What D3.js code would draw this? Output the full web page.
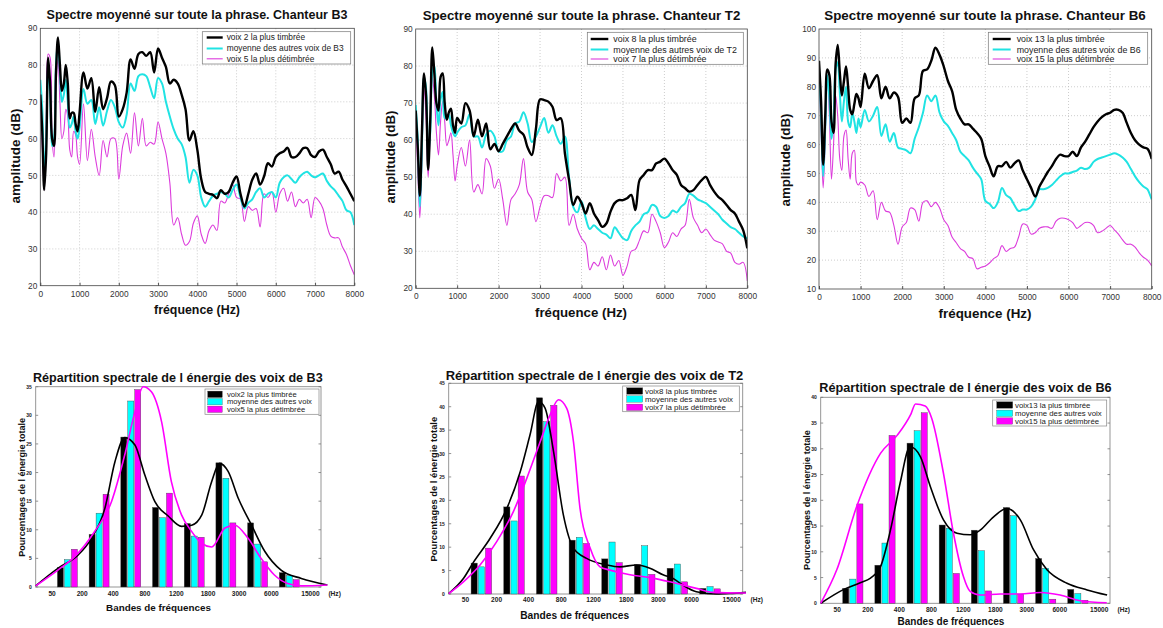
<!DOCTYPE html>
<html><head><meta charset="utf-8">
<script src="https://cdn.jsdelivr.net/npm/d3@7"></script>
<style>body{margin:0;background:#fff}svg{display:block}text{font-family:"Liberation Sans",Arial,sans-serif}</style>
</head><body><svg id="c" width="1163" height="628"></svg>
<script>
// ---------- DATA: spectra (top row) ----------
const freqs = [0,50,100,150,200,250,300,350,400,450,500,550,600,650,700,750,800,850,900,950,1000,
1100,1200,1300,1400,1500,1600,1700,1800,1900,2000,2100,2200,2300,2400,2500,2600,2700,2800,2900,3000,
3100,3200,3300,3400,3500,3600,3700,3800,3900,4000,4100,4200,4300,4400,4500,4600,4700,4800,4900,5000,
5100,5200,5300,5400,5500,5600,5700,5800,5900,6000,6100,6200,6300,6400,6500,6600,6700,6800,6900,7000,
7100,7200,7300,7400,7500,7600,7700,7800,7900,8000];
const freqTicks = [0,1000,2000,3000,4000,5000,6000,7000,8000];

const b3Timbree = [72,62,46,56,82,75,60,58,78,87.5,80,73,75,80,75,65.5,67,67,64,62,67,
78,73.6,76.4,67.3,74,68,71,75.5,74.5,66, 68,72.5,81.5,79,83,83.5,82.5,83.5,78,84.5,
82,79.5,75,76,75,72,68,59.5,62,57, 49,45.5,45,44.7,43.8,46,45,45.5,48,49.7,
45,41.5,45,48.8,50.5,47.5,49.7,53.3,52.4,55, 56,56.5,57.5,55,55,56,57.4,57.4,55.5,55,
56.5,57,55,53,50.5,51,48.8,47,45,43];
const b3Moyenne = [76,68,50,60,80,72,58,60,80,86.5,78,70,72,76,70,63,64,66,62,60,63,
73.5,69.5,70.5,64,68.5,63.5,67.5,70.5,68.5,64.5, 63,66.5,75,73,77,77.5,77,74,71,76.5,
75,70,66,62.5,60,58.5,55,48,51.5,50, 44,41.5,43,44.5,45,45.5,45,44,46,47.5,
44,41,42.5,43.5,45.5,46.5,44,45,45.5,44, 48,49.5,50,49,48,49.5,50.5,51,50,49.5,
50,50.5,48.5,47,46,44.5,43,40.5,40,36.5];
const b3Detimbree = [72,58,46,62,83,82,60,55,74,81.5,70,60,62,68,66,57,55,62,61,55,53,
69.5,54,62.5,55,50,59.5,55,60,60,49, 58,61.5,56,67,58,65.5,58,59,58.5,64.5,
60,56,48,36.5,38.5,34,31,32,37,39, 34,31.5,35,36.5,35,43,42.5,45,47.5,44,
43.5,37.5,41.5,40.5,41,36,45,44,45.5,40, 45,46.5,43,45.5,41.5,43.5,42.5,43.5,38.5,44,
43,41,36.5,33.5,33,33,30.5,28.5,25.5,23];

const t2Timbree = [68,58,45,62,78,72,52,65,85,78,70,68,77,78,70,65.5,67.5,68.5,64,62,66,
64.5,70,68,61,65.5,61,64.5,57.5,59,57, 59,61,63,64.5,62.5,61.5,58,56,63,71,
70.8,70.4,69,65.4,65.9,56.4,49.2,42.5,44.7,43, 40.2,43,40.2,38.4,36.6,37.5,40.7,43,43.8,43.8,
44.3,45.2,41.1,49.2,50.6,51.9,51.9,53.7,54.2,55, 53.7,51.9,50.6,47.9,47,46.1,46.5,47.9,49.2,50.1,
47.9,46.1,44.7,43.8,42.5,41.1,40.2,38,35.7,30.8];
const t2Moyenne = [69.5,60,42,58,77,74,56,62,78,80,70,64,71,73,66,66,67,64,62,61,62,
63.5,64,67,61,61,58,61.5,62.5,61,57, 57,60,61,64.5,65,67.5,64.5,59.5,61,63.5,
66,62,64,61,59,61,50,42,40.5,43.5, 39,36,37,36,35,34.5,33.5,36.5,35,33.5,
33,35.5,37,38,40,40.5,42.5,42,39.5,39, 39.5,41,40.5,42,43,45.5,45,44,43.5,43,
42,41,40,38.5,37.5,36.5,36,35,34,33.5];
const t2Detimbree = [66,52,39,55,74,66,50,62,77,72,62,56,65,70.5,65,58.5,60,62,56,49,53,
58,53,60,46,48,45.5,55,53,47,49.5, 44,37,44,45.5,48,55,46,44,38,42,
45,45,44.5,51,49,50,37,40,36,33.5, 32,25,27,26,28.5,25,29,26,27.5,23.5,
26,30,30.5,33,35.5,35,40,38,35,31, 32.5,35,34,36,37,44,39,37,35,36,
34.5,33,32.5,32,30,29.5,27,26.5,27,22];

const b6Timbree = [89,75,53,70,86,84,68,64,88,94.5,85,77,82,87,80,72,70.5,74,77.5,76,73,
84.5,79.5,82,84,76,80,76,78,76.5,67.5, 69,67.5,76,77,85.5,86,89,93.5,91,87,
82,78.5,72,69,67,67,65.5,64,62,56, 52.5,49,52.5,52.5,54,52,53.5,54.5,51,48,
45,42,45.5,48,50.5,52.5,55,56.5,56,56, 57.5,56,59,61,63.5,66,68,69.5,70.5,71,
72,72,71,67.5,64,61.5,60,59,58.5,55];
const b6Moyenne = [86,70,49,66,84,76,62,68,86,88.5,78,68,75,80,68,66,71,68,64,69,66,
72,68,70,73,63,67,61,64,59,58.5, 58,57,62,66,71,77,75,77,71,68,
66.5,64,61.5,57.5,56,54.5,52,50,48,40.5, 39.5,38,40,45,42.5,41.5,39,37,37.5,37.5,
38.5,41,44.5,44.5,45,46,47.5,49,50,50, 50.5,51,52,51.5,52,54,55,55.5,56,56.5,
57,56.5,55.5,54,51.5,49,47,45.5,44.5,41];
const b6Detimbree = [85,65,45,62,84,70,48,60,77,70,55,51,63,65,55,48,57,58,47,46,47,
46,42,44,34,40,37,36.5,32,25.5,31.5, 33,38,37.5,33.5,40,40.5,38.5,40,38,34,
32,28,26,24,23,21,20.5,17,17.5,18, 19,20.5,21.5,25,23,24,24.5,28,32.5,32,
29,29.5,31,31.5,31.5,31,33.5,34.5,34.5,34, 33,31,32,33,33,32,29.5,30,31,32,
30.5,29,27,25.5,25.5,24.5,22.5,21,20,18];

// ---------- DATA: energy per band (bottom row) ----------
const bandLabels = ["50","200","400","800","1200","1800","3000","6000","15000"];
const bandLabelPos = [0.5,1.45,2.43,3.43,4.42,5.42,6.4,7.42,8.65];
const bandIndex = [1,2,3,4,5,6,7,8];

const b3BarTimbree = [3.4,9.2,26.2,13.9,11.1,21.7,11.2,2.5];
const b3BarMoyenne = [4.8,12.9,32.5,12.1,8.9,19.0,7.5,2.0];
const b3BarDetimbree = [6.6,16.2,34.5,16.4,8.7,11.2,4.4,1.3];
const t2BarTimbree = [6.6,18.6,41.9,11.5,7.5,6.3,5.5,1.2];
const t2BarMoyenne = [5.8,15.6,36.8,12.1,11.1,10.3,6.4,1.6];
const t2BarDetimbree = [9.8,25.2,40.3,10.8,6.7,4.2,2.6,1.1];
const b6BarTimbree = [2.9,7.4,31.1,15.2,14.2,18.6,8.7,2.7];
const b6BarMoyenne = [4.7,11.7,33.5,14.6,10.2,17.0,6.8,1.9];
const b6BarDetimbree = [19.3,32.6,37.0,5.8,2.4,1.8,0.8,0.6];

const b3CurveTimbree = [[0,0.2],[0.71,3.3],[1.34,5.6],[1.76,8.5],[2.18,13.7],[2.5,21.9],[2.81,26.1],[3.13,24.8],[3.44,19.6],[3.76,14.9],[4.18,12.4],[4.6,10.6],[4.92,10.8],[5.24,12.6],[5.55,18.4],[5.8,21.6],[6.07,20.2],[6.39,15.5],[6.81,10.8],[7.23,6.2],[7.75,2.9],[8.38,1.5],[9.2,0.35]];
const b3CurveDetimbree = [[0,0.2],[0.71,3.0],[1.23,5.3],[1.86,9.7],[2.39,14.9],[2.81,23.1],[3.13,30.6],[3.39,35],[3.65,34.1],[3.97,28.9],[4.28,18.4],[4.6,12.6],[4.92,9.7],[5.24,7.6],[5.55,7.0],[5.97,10.3],[6.28,10.8],[6.7,8.5],[7.11,5.0],[7.53,2.1],[7.95,0.6],[8.38,0.2],[9.2,0.35]];
const t2CurveTimbree = [[0,0.1],[0.45,3.3],[0.76,6.8],[1.27,11.9],[1.78,18.3],[2.19,26.1],[2.49,34],[2.75,41.1],[2.95,39.7],[3.21,30.4],[3.51,16.9],[3.82,9.8],[4.22,7.6],[4.84,6.2],[5.24,5.8],[5.75,6.2],[6.16,5.5],[6.56,4.1],[6.87,3.3],[7.17,1.9],[7.58,0.5],[8.19,0],[8.6,0.1],[9.1,0.35]];
const t2CurveDetimbree = [[0,0.1],[0.45,2.6],[0.96,6.2],[1.47,11.2],[1.98,17.6],[2.39,24.7],[2.8,32.5],[3.1,38.2],[3.36,41.5],[3.61,39.7],[3.82,32.5],[4.02,18.3],[4.33,9.8],[4.63,5.8],[4.94,5.1],[5.55,4.1],[6.16,3.5],[6.77,2.6],[7.17,1.9],[7.58,1.2],[8.09,0.35],[9.1,0.2]];
const b6CurveTimbree = [[0,0],[0.72,2.7],[1.23,4.0],[1.55,4.9],[1.86,7.1],[2.17,14.2],[2.47,23.3],[2.78,30.4],[3.1,28.5],[3.41,22.7],[3.82,16.2],[4.24,13.6],[4.65,13.3],[4.96,14.2],[5.38,16.8],[5.79,18.4],[6.21,16.2],[6.62,10.4],[7.04,6.5],[7.66,3.9],[8.29,2.6],[8.91,1.6]];
const b6CurveDetimbree = [[0,0],[0.5,6.5],[1.12,18.8],[1.86,29.1],[2.39,32.7],[2.81,36.8],[2.95,38.7],[3.25,38.3],[3.45,36.0],[3.82,25.2],[4.13,13.6],[4.44,5.2],[4.65,2.3],[4.96,1.6],[5.59,1.8],[6.21,1.8],[6.83,2.1],[7.45,1.6],[8.07,0.5],[8.9,0.1]];

// ---------- drawing ----------
const svg = d3.select('#c');
svg.append('rect').attr('width',1163).attr('height',628).attr('fill','#fff');
const COL = {k:'#000', c:'#20e3e3', m:'#dc3cdc'};
const BCOL = {k:'#000', c:'#00ffff', m:'#ff00ff'};

function fitText(t, w){
  const l = t.node().getComputedTextLength();
  const fs = parseFloat(t.attr('font-size'));
  t.attr('font-size', (fs*w/l).toFixed(2));
}

function spectrum(cfg){
  const g = svg.append('g');
  const x = d3.scaleLinear().domain([0,8000]).range([cfg.x0,cfg.x1]);
  const y = d3.scaleLinear().domain(cfg.yDomain).range([cfg.yBot,cfg.yTop]);
  const yTicks = d3.range(cfg.yDomain[0], cfg.yDomain[1]+0.1, 10);
  g.selectAll('.gx').data(freqTicks.slice(1,-1)).join('line')
    .attr('x1',d=>x(d)).attr('x2',d=>x(d)).attr('y1',cfg.yTop).attr('y2',cfg.yBot)
    .attr('stroke','#b8b8b8').attr('stroke-width',0.7).attr('stroke-dasharray','1,2');
  g.selectAll('.gy').data(yTicks.slice(1,-1)).join('line')
    .attr('y1',d=>y(d)).attr('y2',d=>y(d)).attr('x1',cfg.x0).attr('x2',cfg.x1)
    .attr('stroke','#b8b8b8').attr('stroke-width',0.7).attr('stroke-dasharray','1,2');
  const ax = g.append('g').attr('transform',`translate(0,${cfg.yBot})`)
    .call(d3.axisBottom(x).tickValues(freqTicks).tickSize(3).tickPadding(2).tickFormat(d3.format('d')));
  const ay = g.append('g').attr('transform',`translate(${cfg.x0},0)`)
    .call(d3.axisLeft(y).tickValues(yTicks).tickSize(0).tickPadding(3));
  [ax,ay].forEach(a=>{a.select('.domain').remove();
    a.selectAll('text').attr('font-size',8.3).attr('fill','#333').attr('font-family','"Liberation Sans",Arial,sans-serif');});
  ax.selectAll('line').attr('y2',-3).attr('stroke','#555');
  const cid = 'clip'+cfg.id;
  svg.append('clipPath').attr('id',cid).append('rect')
    .attr('x',cfg.x0).attr('y',cfg.yTop).attr('width',cfg.x1-cfg.x0).attr('height',cfg.yBot-cfg.yTop);
  const line = d3.line().x((d,i)=>x(freqs[i])).y(d=>y(d)).curve(d3.curveCatmullRom.alpha(0.5));
  const lg = g.append('g').attr('clip-path',`url(#${cid})`);
  lg.append('path').attr('d',line(cfg.m)).attr('fill','none').attr('stroke',COL.m).attr('stroke-width',1.1);
  lg.append('path').attr('d',line(cfg.c)).attr('fill','none').attr('stroke',COL.c).attr('stroke-width',2);
  lg.append('path').attr('d',line(cfg.k)).attr('fill','none').attr('stroke',COL.k).attr('stroke-width',2.4);
  g.append('rect').attr('x',cfg.x0).attr('y',cfg.yTop).attr('width',cfg.x1-cfg.x0).attr('height',cfg.yBot-cfg.yTop)
    .attr('fill','none').attr('stroke','#444').attr('stroke-width',0.8);
  const L = cfg.leg;
  g.append('rect').attr('x',L.x0).attr('y',L.y0).attr('width',L.x1-L.x0).attr('height',L.y1-L.y0)
    .attr('fill','#fff').attr('stroke','#777').attr('stroke-width',0.7);
  const items = [[COL.k,2.4,cfg.names[0]],[COL.c,2,cfg.names[1]],[COL.m,1.1,cfg.names[2]]];
  let texts=[];
  items.forEach((it,i)=>{
    g.append('line').attr('x1',L.lx0).attr('x2',L.lx1).attr('y1',L.rows[i]).attr('y2',L.rows[i])
      .attr('stroke',it[0]).attr('stroke-width',it[1]);
    texts.push(g.append('text').attr('x',L.tx).attr('y',L.rows[i]).attr('dy','0.35em')
      .attr('font-size',8.5).attr('fill','#222').text(it[2]));
  });
  fitText(texts[1], L.tw);
  texts[0].attr('font-size',texts[1].attr('font-size'));
  texts[2].attr('font-size',texts[1].attr('font-size'));
  const t = g.append('text').attr('x',cfg.title[0]).attr('y',cfg.title[1]).attr('dy','0.35em')
    .attr('text-anchor','middle').attr('font-weight','bold').attr('font-size',12).attr('fill','#111').text(cfg.title[3]);
  fitText(t, cfg.title[2]);
  const xl = g.append('text').attr('x',cfg.xl[0]).attr('y',cfg.xl[1]).attr('dy','0.35em')
    .attr('text-anchor','middle').attr('font-weight','bold').attr('font-size',13).attr('fill','#111').text('fréquence (Hz)');
  fitText(xl, cfg.xl[2]);
  const yl = g.append('text').attr('transform',`translate(${cfg.yl[0]},${cfg.yl[1]}) rotate(-90)`).attr('dy','0.35em')
    .attr('text-anchor','middle').attr('font-weight','bold').attr('font-size',13).attr('fill','#111').text('amplitude (dB)');
  fitText(yl, cfg.yl[2]);
}

spectrum({id:1,x0:40.3,x1:354.3,yTop:28.3,yBot:285.7,yDomain:[20,90],k:b3Timbree,c:b3Moyenne,m:b3Detimbree,
  names:['voix 2 la plus timbrée','moyenne des autres voix de B3','voix 5 la plus détimbrée'],
  leg:{x0:202.3,x1:350.7,y0:31.7,y1:64,lx0:206.7,lx1:222.7,tx:226.7,tw:117,rows:[37.5,48.5,58.8]},
  title:[197,15,301,'Spectre moyenné sur toute la phrase. Chanteur B3'],xl:[197,310,86],yl:[15,156,95]});
spectrum({id:2,x0:415.7,x1:747.3,yTop:29,yBot:288.3,yDomain:[20,90],k:t2Timbree,c:t2Moyenne,m:t2Detimbree,
  names:['voix 8 la plus timbrée','moyenne des autres voix de T2','voix 7 la plus détimbrée'],
  leg:{x0:587.3,x1:743.3,y0:32.3,y1:64.3,lx0:590.7,lx1:608.3,tx:613.3,tw:124,rows:[39,49.5,59]},
  title:[581.5,15,318,'Spectre moyenné sur toute la phrase. Chanteur T2'],xl:[581,312.7,92],yl:[390,157,93]});
spectrum({id:3,x0:819,x1:1151.7,yTop:29,yBot:289,yDomain:[10,100],k:b6Timbree,c:b6Moyenne,m:b6Detimbree,
  names:['voix 13 la plus timbrée','moyenne des autres voix de B6','voix 15 la plus détimbrée'],
  leg:{x0:988.3,x1:1147.7,y0:32.3,y1:64.3,lx0:992.7,lx1:1010.7,tx:1016.7,tw:124,rows:[39,49.5,59]},
  title:[985,15,321.7,'Spectre moyenné sur toute la phrase. Chanteur B6'],xl:[985,313.3,93],yl:[785,160,93]});

function energy(cfg){
  const g = svg.append('g');
  const x = d3.scaleLinear().domain([0,9]).range([cfg.x0,cfg.x1]);
  const y = d3.scaleLinear().domain([0,cfg.yMax]).range([cfg.yBot,cfg.yTop]);
  const yTicks = d3.range(0,cfg.yMax+0.1,5);
  g.append('rect').attr('x',cfg.x0).attr('y',cfg.yTop).attr('width',cfg.x1-cfg.x0).attr('height',cfg.yBot-cfg.yTop)
    .attr('fill','none').attr('stroke','#8a8a8a').attr('stroke-width',0.9);
  g.selectAll('.tl').data(yTicks).join('line').attr('x1',cfg.x0).attr('x2',cfg.x0+2.5)
    .attr('y1',d=>y(d)).attr('y2',d=>y(d)).attr('stroke','#777').attr('stroke-width',0.8);
  g.selectAll('.tr').data(yTicks).join('line').attr('x1',cfg.x1).attr('x2',cfg.x1-2.5)
    .attr('y1',d=>y(d)).attr('y2',d=>y(d)).attr('stroke','#777').attr('stroke-width',0.8);
  const ay = g.append('g').attr('transform',`translate(${cfg.x0},0)`)
    .call(d3.axisLeft(y).tickValues(yTicks).tickSize(0).tickPadding(4));
  ay.select('.domain').remove();
  ay.selectAll('text').attr('font-size',5).attr('font-weight','bold').attr('fill','#222');
  const ax = g.append('g').attr('transform',`translate(0,${cfg.yBot})`)
    .call(d3.axisBottom(x).tickValues(bandLabelPos).tickSize(0).tickPadding(cfg.tp).tickFormat((d,i)=>bandLabels[i]));
  ax.select('.domain').remove();
  ax.selectAll('text').attr('font-size',6.6).attr('font-weight','bold').attr('fill','#222');
  g.append('text').attr('x',x(9.43)).attr('y',cfg.yBot+cfg.tp).attr('dy','0.71em').attr('text-anchor','middle')
    .attr('font-size',6.6).attr('font-weight','bold').attr('fill','#222').text('(Hz)');
  const bw = x(0.19)-x(0);
  const series = [[cfg.bk,-0.22,BCOL.k],[cfg.bc,0,BCOL.c],[cfg.bm,0.22,BCOL.m]];
  series.forEach(s=>{
    g.selectAll(null).data(s[0]).join('rect')
      .attr('x',(d,i)=>x(bandIndex[i]+s[1])-bw/2).attr('width',bw)
      .attr('y',d=>y(d)).attr('height',d=>y(0)-y(d))
      .attr('fill',s[2]).attr('stroke','#444').attr('stroke-width',0.4);
  });
  const line = d3.line().x(d=>x(d[0])).y(d=>y(d[1])).curve(d3.curveMonotoneX);
  g.append('path').attr('d',line(cfg.ck)).attr('fill','none').attr('stroke','#000').attr('stroke-width',1.6);
  g.append('path').attr('d',line(cfg.cm)).attr('fill','none').attr('stroke','#ff00ff').attr('stroke-width',1.6);
  const L = cfg.leg;
  g.append('rect').attr('x',L.x0).attr('y',L.y0).attr('width',L.x1-L.x0).attr('height',L.y1-L.y0)
    .attr('fill','#fff').attr('stroke','#888').attr('stroke-width',0.7);
  const cols=[BCOL.k,BCOL.c,BCOL.m]; let texts=[];
  cfg.names.forEach((n,i)=>{
    g.append('rect').attr('x',L.px0).attr('y',L.rows[i]-3.2).attr('width',L.px1-L.px0).attr('height',6.4)
      .attr('fill',cols[i]).attr('stroke','#444').attr('stroke-width',0.3);
    texts.push(g.append('text').attr('x',L.tx).attr('y',L.rows[i]).attr('dy','0.35em')
      .attr('font-size',7).attr('fill','#222').text(n));
  });
  fitText(texts[1], L.tw);
  texts[0].attr('font-size',texts[1].attr('font-size'));
  texts[2].attr('font-size',texts[1].attr('font-size'));
  const t = g.append('text').attr('x',cfg.title[0]).attr('y',cfg.title[1]).attr('dy','0.35em')
    .attr('text-anchor','middle').attr('font-weight','bold').attr('font-size',11).attr('fill','#111').text(cfg.title[3]);
  fitText(t, cfg.title[2]);
  const xl = g.append('text').attr('x',cfg.xl[0]).attr('y',cfg.xl[1]).attr('dy','0.35em')
    .attr('text-anchor','middle').attr('font-weight','bold').attr('font-size',10).attr('fill','#111').text('Bandes de fréquences');
  fitText(xl, cfg.xl[2]);
  const yl = g.append('text').attr('transform',`translate(${cfg.yl[0]},${cfg.yl[1]}) rotate(-90)`).attr('dy','0.35em')
    .attr('text-anchor','middle').attr('font-weight','bold').attr('font-size',9).attr('fill','#111').text('Pourcentages de l énergie totale');
  fitText(yl, cfg.yl[2]);
}

energy({x0:35.7,x1:321,yTop:386.7,yBot:587,yMax:35,tp:4,bk:b3BarTimbree,bc:b3BarMoyenne,bm:b3BarDetimbree,
  ck:b3CurveTimbree,cm:b3CurveDetimbree,
  names:['voix2 la plus timbrée','moyenne des autres voix','voix5 la plus détimbrée'],
  leg:{x0:205,x1:319,y0:389,y1:414.3,px0:207.7,px1:222.3,tx:227,tw:85,rows:[394.3,401.7,409.3]},
  title:[177.8,378,290,'Répartition spectrale de l énergie des voix de B3'],xl:[158.5,608,105],yl:[21.7,487.3,139]});
energy({x0:448.7,x1:742.7,yTop:383.3,yBot:594,yMax:45,tp:3.5,bk:t2BarTimbree,bc:t2BarMoyenne,bm:t2BarDetimbree,
  ck:t2CurveTimbree,cm:t2CurveDetimbree,
  names:['voix8 la plus timbrée','moyenne des autres voix','voix7 la plus détimbrée'],
  leg:{x0:622.7,x1:739.3,y0:386,y1:411.7,px0:626.7,px1:642.7,tx:645,tw:88,rows:[391,399,407.3]},
  title:[594.5,375,297.6,'Répartition spectrale de l énergie des voix de T2'],xl:[574.7,615,109],yl:[434,489.2,145]});
energy({x0:820.7,x1:1110,yTop:397.3,yBot:603.3,yMax:40,tp:4,bk:b6BarTimbree,bc:b6BarMoyenne,bm:b6BarDetimbree,
  ck:b6CurveTimbree,cm:b6CurveDetimbree,
  names:['voix13 la plus timbrée','moyenne des autres voix','voix15 la plus détimbrée'],
  leg:{x0:992.7,x1:1106.7,y0:400,y1:426,px0:996.7,px1:1012.7,tx:1015,tw:86.7,rows:[405,413.3,421]},
  title:[965.5,387.3,292.4,'Répartition spectrale de l énergie des voix de B6'],xl:[951,621.5,107],yl:[806.7,500,140]});
</script></body></html>
